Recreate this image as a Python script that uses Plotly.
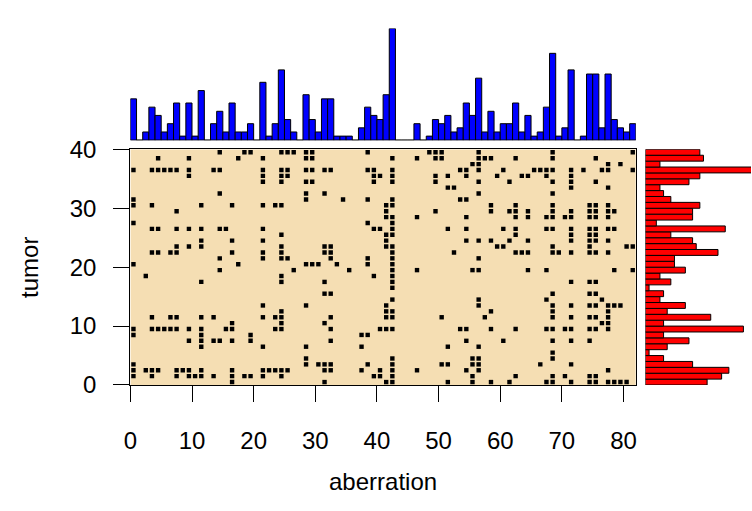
import plotly.graph_objects as go

# --- data: aberration indices (0-based columns) present in each tumor (row) ---
t00 = [16, 31, 41, 42, 51, 55, 58, 61, 67, 68, 71, 74, 75, 77, 78, 79, 80]
t01 = [0, 3, 7, 9, 10, 11, 13, 16, 18, 19, 21, 24, 39, 40, 42, 55, 62, 68, 70, 74, 75]
t02 = [0, 2, 3, 4, 7, 8, 9, 11, 16, 21, 22, 23, 24, 25, 31, 32, 37, 40, 42, 46, 54, 56, 77]
t03 = [0, 28, 30, 31, 32, 38, 42, 50, 51, 55, 56, 66, 71]
t04 = [28, 42, 55, 56, 68]
t05 = [68]
t06 = [11, 21, 28, 37, 51, 56]
t07 = [9, 11, 13, 14, 16, 19, 32, 54, 60, 68, 71, 74]
t08 = [0, 11, 19, 37, 38]
t09 = [0, 3, 4, 5, 6, 7, 9, 11, 15, 16, 23, 24, 32, 40, 41, 42, 53, 54, 58, 62, 67, 68, 70, 71, 74, 75, 77]
t10 = [16, 24, 31, 76, 77]
t11 = [3, 6, 7, 11, 13, 21, 23, 24, 32, 41, 42, 50, 57, 68, 71, 74, 75, 77]
t12 = [24, 41, 42, 58, 68, 77]
t13 = [21, 28, 41, 56, 68, 71, 74, 75, 77, 78, 79]
t14 = [42, 56, 67, 76]
t15 = [31, 32, 68, 74, 75]
t16 = [42]
t17 = [11, 24, 31, 42, 71, 74, 75]
t18 = [2, 24, 39, 42]
t19 = [14, 26, 35, 42, 46, 55, 56, 64, 67, 78, 81]
t20 = [0, 17, 28, 29, 30, 33, 38, 42]
t21 = [14, 21, 24, 25, 32, 38, 42, 56]
t22 = [3, 4, 6, 7, 16, 21, 24, 31, 32, 42, 52, 62, 63, 64, 68, 69, 71, 74, 75, 77]
t23 = [7, 9, 11, 24, 31, 32, 41, 42, 59, 60, 68, 74, 80, 81]
t24 = [11, 16, 21, 41, 54, 56, 58, 61, 64, 71, 74, 75, 77]
t25 = [24, 41, 42, 62, 71, 74, 75]
t26 = [3, 4, 7, 9, 11, 14, 15, 21, 39, 40, 42, 51, 54, 60, 62, 67, 68, 71, 74, 75, 77, 78]
t27 = [0, 38, 42]
t28 = [41, 42, 46, 54, 62, 64, 67, 68, 70, 71, 74, 75, 77]
t29 = [7, 41, 49, 58, 61, 62, 64, 68, 71, 74, 75, 77, 78]
t30 = [0, 3, 11, 16, 21, 23, 24, 41, 42, 58, 62, 68, 74, 75, 77]
t31 = [0, 28, 34, 38, 42, 53, 54]
t32 = [14, 28, 31, 56, 68]
t33 = [51, 52, 71, 77]
t34 = [21, 24, 28, 29, 39, 42, 49, 56, 61, 68, 71, 75]
t35 = [9, 21, 24, 25, 39, 40, 42, 49, 51, 54, 59, 63, 64, 67, 71]
t36 = [0, 3, 4, 5, 6, 7, 9, 13, 14, 21, 24, 25, 28, 29, 31, 32, 38, 39, 42, 53, 54,
       56, 60, 65, 66, 67, 68, 71, 73, 76, 77, 81]
t37 = [55, 56, 77, 79]
t38 = [4, 9, 17, 21, 28, 29, 42, 46, 49, 50, 56, 57, 58, 62, 68, 75]
t39 = [14, 18, 19, 24, 25, 26, 28, 29, 38, 48, 49, 50, 56, 68, 81]

n_aberrations = 82
n_tumors = 40
x_ticks = [0, 10, 20, 30, 40, 50, 60, 70, 80]
y_ticks = [0, 10, 20, 30, 40]
x_title = "aberration"
y_title = "tumor"

rows = [t00, t01, t02, t03, t04, t05, t06, t07, t08, t09,
        t10, t11, t12, t13, t14, t15, t16, t17, t18, t19,
        t20, t21, t22, t23, t24, t25, t26, t27, t28, t29,
        t30, t31, t32, t33, t34, t35, t36, t37, t38, t39]

px, py = [], []
for i, r in enumerate(rows):
    for j in r:
        px.append(j + 0.5)
        py.append(i + 0.5)

col_counts = [sum(1 for r in rows if j in r) for j in range(n_aberrations)]
row_counts = [len(r) for r in rows]

W, H = 752, 511
left, right_main = 124.7, 635.6
bottom, top_main = 391.7, 142.9
top_hist_base, top_hist_top = 133.3, 15.3
right_hist_base = 645.3
right_px_per_count = 3.667

font = "Liberation Sans, Arial, sans-serif"
fs = 24

fig = go.Figure()

fig.add_trace(go.Scatter(
    x=px, y=py, mode="markers",
    marker=dict(symbol="square", size=4.4, color="black", line=dict(width=0)),
    xaxis="x", yaxis="y", hoverinfo="skip"))

fig.add_trace(go.Bar(
    x=[j + 0.5 for j in range(n_aberrations)], y=col_counts, width=1,
    marker=dict(color="#0000FF", line=dict(color="black", width=1)),
    xaxis="x2", yaxis="y2"))

fig.add_trace(go.Bar(
    y=[i + 0.5 for i in range(n_tumors)], x=row_counts, width=1, orientation="h",
    marker=dict(color="#FF0000", line=dict(color="black", width=1)),
    xaxis="x3", yaxis="y3"))

main_xdom = [left / W, right_main / W]
main_ydom = [(H - bottom) / H, (H - top_main) / H]

axis_common = dict(showgrid=False, zeroline=False, ticks="outside", ticklen=16,
                   tickwidth=1, tickcolor="black", showline=True, linecolor="black",
                   linewidth=1.3, mirror=True,
                   tickfont=dict(family=font, size=fs, color="black"))

fig.update_layout(
    width=W, height=H, margin=dict(l=0, r=0, t=0, b=0),
    paper_bgcolor="white", plot_bgcolor="white", showlegend=False,
    xaxis=dict(domain=main_xdom, range=[0, n_aberrations], tickvals=x_ticks,
               ticklabelstandoff=18, anchor="y", **axis_common),
    yaxis=dict(domain=main_ydom, range=[0, n_tumors], tickvals=y_ticks,
               ticklabelstandoff=12, anchor="x", **axis_common),
    xaxis2=dict(domain=main_xdom, range=[0, n_aberrations], visible=False, anchor="y2"),
    yaxis2=dict(domain=[(H - top_hist_base) / H, (H - top_hist_top) / H],
                range=[0, max(col_counts)], visible=False, anchor="x2"),
    xaxis3=dict(domain=[right_hist_base / W, 1.0],
                range=[0, (W - right_hist_base) / right_px_per_count],
                visible=False, anchor="y3"),
    yaxis3=dict(domain=main_ydom, range=[0, n_tumors], visible=False, anchor="x3"),
    shapes=[
        dict(type="rect", xref="x", yref="y", x0=0, x1=n_aberrations, y0=0, y1=n_tumors,
             fillcolor="#F5DEB3", line=dict(width=0), layer="below"),
        dict(type="line", xref="x2", yref="y2", x0=0, x1=n_aberrations, y0=0, y1=0,
             line=dict(color="black", width=1)),
    ],
    annotations=[
        dict(text=x_title, xref="paper", yref="paper",
             x=(left + right_main) / 2 / W, y=(H - 494) / H,
             showarrow=False, xanchor="center", yanchor="middle",
             font=dict(family=font, size=fs, color="black")),
        dict(text=y_title, xref="paper", yref="paper",
             x=22 / W, y=(H - (bottom + top_main) / 2) / H, textangle=-90,
             showarrow=False, xanchor="center", yanchor="middle",
             font=dict(family=font, size=fs, color="black")),
    ],
)

fig.write_html("out.html")
